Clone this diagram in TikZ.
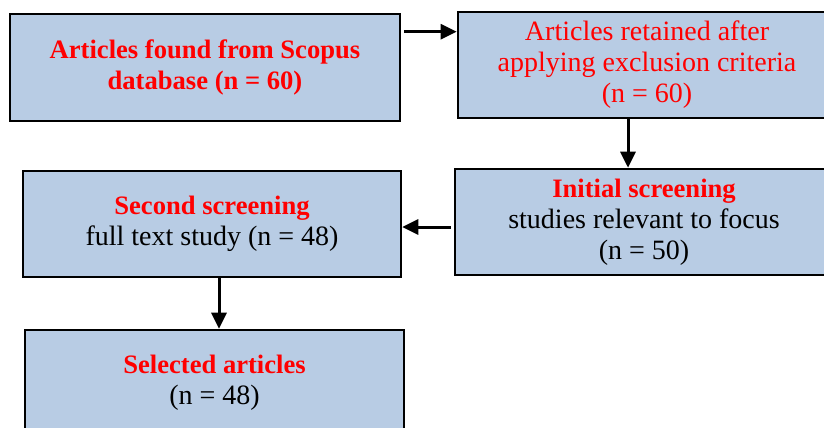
\documentclass[tikz,border=0pt]{standalone}
\usepackage{fontspec}
\setmainfont{Liberation Serif}
\usetikzlibrary{arrows.meta}
\definecolor{boxfill}{RGB}{184,204,228}
\definecolor{boxred}{RGB}{255,0,0}
\tikzset{
  flowbox/.style={draw=black, line width=2.6pt, fill=boxfill, inner sep=0pt,
    align=center, font=\fontsize{28}{31}\selectfont},
  arr/.style={line width=3pt, -{Triangle[length=16pt,width=15pt]}},
}
\newcommand{\hd}[1]{\textcolor{boxred}{\fontsize{26.6}{31}\selectfont\bfseries #1}}
\newcommand{\rd}[1]{\textcolor{boxred}{#1}}
\begin{document}
\begin{tikzpicture}[x=1pt,y=-1pt]
\useasboundingbox (0,0) rectangle (824,428);
\clip (0,0) rectangle (824,428);
\node[flowbox, minimum width=390pt, minimum height=107pt] (A) at (205,67.5)
  {\hd{Articles found from Scopus}\\\hd{database (n = 60)}};
\node[flowbox, minimum width=378pt, minimum height=106pt] (B) at (647,65)
  {\rd{Articles retained after}\\\rd{applying exclusion criteria}\\\rd{(n = 60)}};
\node[flowbox, minimum width=378pt, minimum height=106pt] (C) at (644,222)
  {\hd{Initial screening}\\studies relevant to focus\\(n = 50)};
\node[flowbox, minimum width=378pt, minimum height=106pt] (D) at (212,224)
  {\hd{Second screening}\\full text study (n = 48)};
\node[flowbox, minimum width=379pt, minimum height=106pt] (E) at (214.5,383)
  {\hd{Selected articles}\\(n = 48)};
\draw[arr] ([xshift=3pt,yshift=-19pt]A.north east) -- ([yshift=-19pt]A.north east -| B.west);
\draw[arr] ([xshift=-19pt]B.south) -- ([xshift=-19pt]B.south |- C.north);
\draw[arr] ([xshift=-3pt,yshift=-5pt]C.west) -- ([yshift=-5pt]C.west -| D.east);
\draw[arr] ([xshift=7pt]D.south) -- ([xshift=7pt]D.south |- E.north);
\end{tikzpicture}
\end{document}
